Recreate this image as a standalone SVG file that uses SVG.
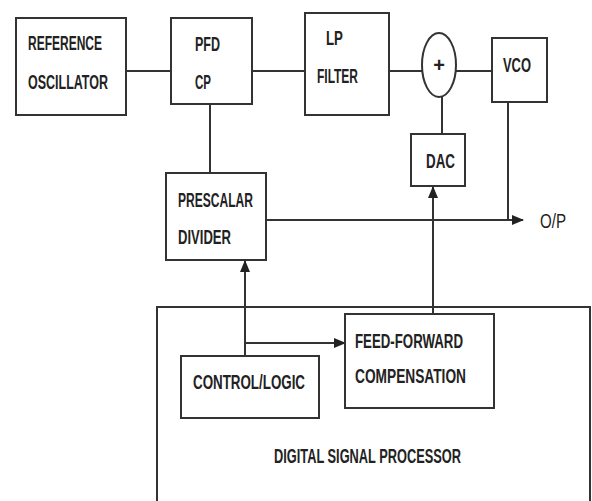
<svg xmlns="http://www.w3.org/2000/svg" width="592" height="501" viewBox="0 0 592 501">
<style>
.box{fill:#fff;stroke:#333;stroke-width:2}
.ln{fill:none;stroke:#333;stroke-width:2}
.t{font-family:"Liberation Sans",Arial,sans-serif;font-weight:bold;font-size:20px;fill:#222}
.o{font-family:"Liberation Sans",Arial,sans-serif;font-size:20px;fill:#222}
</style>
<defs>
<marker id="ah" markerUnits="userSpaceOnUse" markerWidth="12" markerHeight="10" refX="11" refY="5" orient="auto">
<path d="M0,0 L12,5 L0,10 Z" fill="#222"/>
</marker>
</defs>
<rect width="592" height="501" fill="#fff"/>
<g id="dsp">
<rect class="box" x="157" y="307" width="433" height="215"/>
<text class="t" x="274" y="463" textLength="187" lengthAdjust="spacingAndGlyphs">DIGITAL SIGNAL PROCESSOR</text>
</g>
<g id="connectors">
<line class="ln" x1="126" y1="71" x2="171" y2="71"/>
<line class="ln" x1="252" y1="71" x2="305" y2="71"/>
<line class="ln" x1="389" y1="71" x2="422" y2="71"/>
<line class="ln" x1="456" y1="71" x2="492" y2="71"/>
<line class="ln" x1="442" y1="97" x2="442" y2="134"/>
<line class="ln" x1="210" y1="104" x2="210" y2="173"/>
<line class="ln" x1="508" y1="102" x2="508" y2="220"/>
<line class="ln" x1="266" y1="220" x2="523" y2="220" marker-end="url(#ah)"/>
<line class="ln" x1="433" y1="314" x2="433" y2="187" marker-end="url(#ah)"/>
<line class="ln" x1="245" y1="356" x2="245" y2="261" marker-end="url(#ah)"/>
<line class="ln" x1="245" y1="343" x2="345" y2="343" marker-end="url(#ah)"/>
</g>
<g id="ref-osc">
<rect class="box" x="16" y="18" width="110" height="97"/>
<text class="t" x="28" y="50" textLength="74" lengthAdjust="spacingAndGlyphs">REFERENCE</text>
<text class="t" x="28" y="89" textLength="80" lengthAdjust="spacingAndGlyphs">OSCILLATOR</text>
</g>
<g id="pfd-cp">
<rect class="box" x="171" y="18" width="81" height="86"/>
<text class="t" x="195" y="51" textLength="25" lengthAdjust="spacingAndGlyphs">PFD</text>
<text class="t" x="195" y="89" textLength="16" lengthAdjust="spacingAndGlyphs">CP</text>
</g>
<g id="lp-filter">
<rect class="box" x="305" y="13" width="84" height="102"/>
<text class="t" x="326" y="45" textLength="17" lengthAdjust="spacingAndGlyphs">LP</text>
<text class="t" x="317" y="83" textLength="41" lengthAdjust="spacingAndGlyphs">FILTER</text>
</g>
<g id="summer">
<ellipse class="box" cx="439" cy="65" rx="17" ry="32"/>
<text class="t" x="439" y="72" font-size="15" text-anchor="middle">+</text>
</g>
<g id="vco">
<rect class="box" x="492" y="38" width="55" height="64"/>
<text class="t" x="503" y="72" textLength="28" lengthAdjust="spacingAndGlyphs">VCO</text>
</g>
<g id="dac">
<rect class="box" x="411" y="134" width="54" height="52"/>
<text class="t" x="426" y="168" textLength="29" lengthAdjust="spacingAndGlyphs">DAC</text>
</g>
<g id="prescalar">
<rect class="box" x="166" y="173" width="100" height="87"/>
<text class="t" x="178" y="207" textLength="75" lengthAdjust="spacingAndGlyphs">PRESCALAR</text>
<text class="t" x="178" y="244" textLength="53" lengthAdjust="spacingAndGlyphs">DIVIDER</text>
</g>
<g id="feed-forward">
<rect class="box" x="345" y="314" width="149" height="94"/>
<text class="t" x="355" y="348" textLength="108" lengthAdjust="spacingAndGlyphs">FEED-FORWARD</text>
<text class="t" x="355" y="383" textLength="111" lengthAdjust="spacingAndGlyphs">COMPENSATION</text>
</g>
<g id="control-logic">
<rect class="box" x="181" y="356" width="138" height="62"/>
<text class="t" x="193" y="389" textLength="112" lengthAdjust="spacingAndGlyphs">CONTROL/LOGIC</text>
</g>
<g id="output">
<text class="o" x="540" y="228" textLength="26" lengthAdjust="spacingAndGlyphs">O/P</text>
</g>
</svg>
